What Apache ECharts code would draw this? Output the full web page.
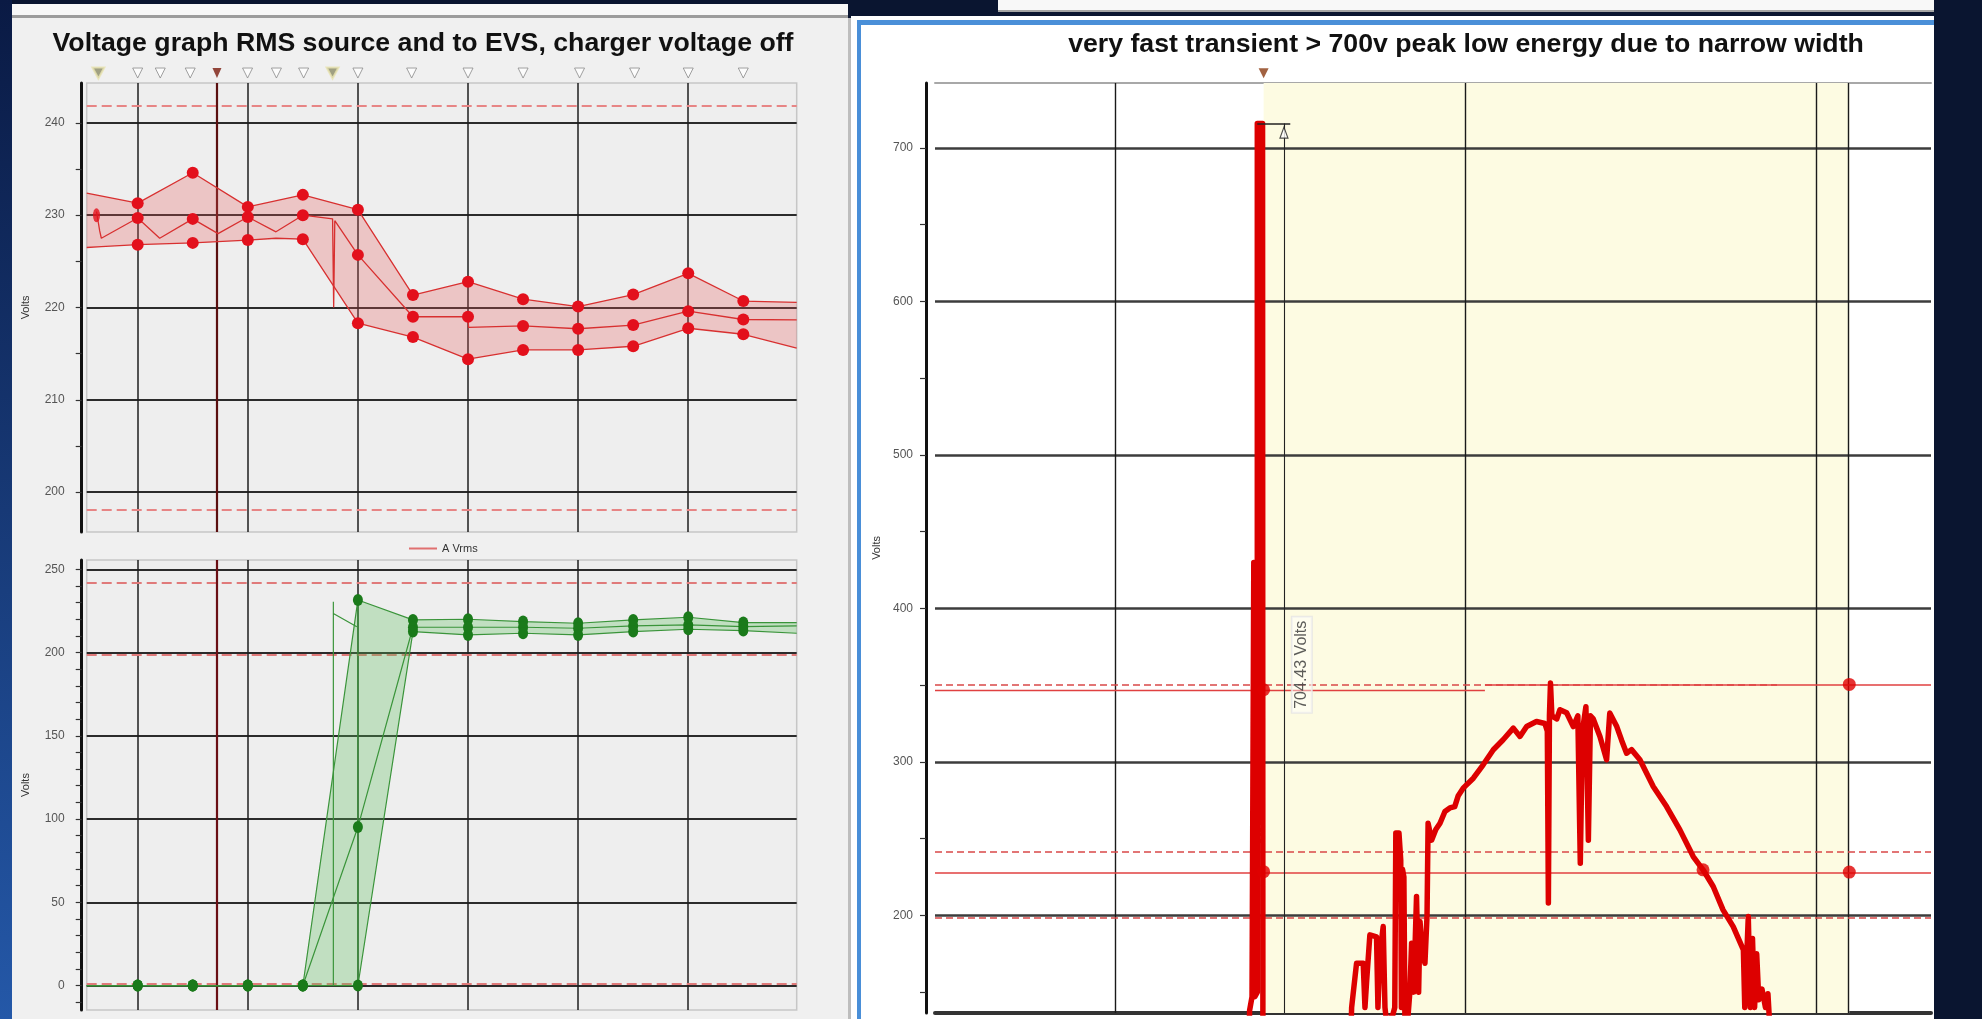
<!DOCTYPE html>
<html><head><meta charset="utf-8">
<script src="https://cdn.jsdelivr.net/npm/echarts@6/dist/echarts.min.js"></script>
<style>html,body{margin:0;padding:0;background:#0a1530;}#c{width:1982px;height:1019px;}</style>
</head><body><div id="c"></div>
<script>
// ---------- titles ----------
const titleLeft = 'Voltage graph RMS source and to EVS, charger voltage off';
const titleRight = 'very fast transient > 700v peak low energy due to narrow width';
const peakText = '704.43 Volts';

// ---------- top-left: A Vrms (source) ----------
const rmsMax = [[0.537,232.4],[1.0,231.3],[1.5,234.6],[2.0,230.9],[2.5,232.2],[3.0,230.6],[3.5,221.35],[4.0,222.8],[4.5,220.9],[5.0,220.1],[5.5,221.4],[6.0,223.7],[6.5,220.7],[6.985,220.55]];
const rmsMean = [[0.626,230.4],[0.655,228.3],[0.67,227.5],[1.0,229.7],[1.2,227.5],[1.5,229.6],[1.73,228.0],[2.0,229.8],[2.256,228.2],[2.5,230.0],[2.77,229.6],[2.78,220.0],[2.79,229.4],[3.0,225.7],[3.5,219.0],[4.0,219.0],[4.005,217.85],[4.5,218.0],[5.0,217.7],[5.5,218.1],[6.0,219.6],[6.5,218.7],[6.985,218.65]];
const rmsMin = [[0.537,226.5],[0.67,226.6],[1.0,226.8],[1.5,227.0],[2.0,227.3],[2.256,227.5],[2.5,227.4],[3.0,218.3],[3.5,216.8],[4.0,214.4],[4.5,215.4],[5.0,215.4],[5.5,215.8],[6.0,217.75],[6.5,217.1],[6.985,215.6]];
const rmsStartDot = [[0.626,230.0]];

// ---------- bottom-left: EVS voltage ----------
const evsMax = [[0.537,0],[1,0],[1.5,0],[2,0],[2.5,0],[3,231.6],[3.5,219.6],[4,220.0],[4.5,218.6],[5,217.6],[5.5,219.6],[6,221.2],[6.5,218.0],[6.985,218.0]];
const evsMean = [[0.537,0],[1,0],[1.5,0],[2,0],[2.5,0],[3,95.2],[3.5,215.2],[4,215.2],[4.5,215.2],[5,214.6],[5.5,216.0],[6,216.6],[6.5,215.6],[6.985,216.0]];
const evsMin = [[0.537,0],[1,0],[1.5,0],[2,0],[2.5,0],[3,0],[3.5,212.6],[4,210.6],[4.5,211.6],[5,210.6],[5.5,212.6],[6,214.0],[6.5,213.2],[6.985,211.6]];
const evsGlitch = [[2.777,0],[2.777,230.5],[2.777,223.5],[2.99,215.5]];
const evsStep = [[3.0,0],[3.0,231.6]];

// ---------- left axes / events ----------
const tlTicks = [200,205,210,215,220,225,230,235,240];
const tlLabels = [200,210,220,230,240];
const tlGridVolts = [200,210,220,230,240];
const tlLimitVolts = [241.86,198.1];
const blTicks = [-10,0,10,20,30,40,50,60,70,80,90,100,110,120,130,140,150,160,170,180,190,200,210,220,230,240,250];
const blLabels = [0,50,100,150,200,250];
const blGridVolts = [0,50,100,150,200,250];
const blLimitVolts = [242,198.5,1.2];
const leftGridTimes = [1,2,3,4,5,6];
const eventTimes = [1.0,1.205,1.477,1.998,2.26,2.507,3.0,3.488,4.0,4.5,5.013,5.513,6.0,6.5];
const flagTimes = [0.643,2.77];
const cursorTime = 1.72;
const markerRowVolts = 245.4;

// ---------- right: fast transient waveform ----------
const wave = [[0.487,60],[1.378,60],[1.384,138],[1.391,147],[1.396,147],[1.396,430],[1.399,147],[1.406,150],[1.406,716],[1.421,716],[1.422,120],[1.427,60],
[1.665,60],[1.675,140],[1.689,168.8],[1.708,168.8],[1.713,140],[1.718,158],[1.727,187.3],[1.746,186],[1.750,140],[1.756,175.4],[1.765,192.7],[1.770,140],[1.775,130],[1.792,135],[1.798,140],[1.801,253.6],[1.810,253.6],[1.815,236],[1.817,140],[1.820,230],[1.824,225],[1.827,130],[1.836,135],[1.841,150],[1.846,181.9],[1.852,150],[1.860,212.3],[1.866,150],[1.870,196],[1.875,180],[1.884,168.8],[1.890,200],[1.893,260],[1.903,249],[1.915,256],[1.927,260],[1.941,267.7],[1.955,270],[1.969,270.9],[1.979,278],[1.993,282.9],[2.022,289.4],[2.050,298.1],[2.079,307.9],[2.107,314.4],[2.136,322],[2.155,316.6],[2.174,323.1],[2.202,326.3],[2.226,325],[2.233,320],[2.236,208],[2.239,330],[2.242,351.4],[2.246,330],[2.260,328],[2.269,334],[2.288,332],[2.307,323],[2.320,330],[2.327,234],[2.333,320],[2.343,336],[2.350,249],[2.356,330],[2.364,328],[2.383,316.6],[2.402,301.4],[2.411,331.8],[2.431,323],[2.445,314],[2.459,305.7],[2.473,308],[2.497,301.4],[2.535,284],[2.573,270.9],[2.611,255.7],[2.649,238.3],[2.677,229.7],[2.706,218.8],[2.734,203.6],[2.763,192.7],[2.792,177.5],[2.796,140],[2.806,199.2],[2.812,140],[2.818,185],[2.824,140],[2.830,175],[2.836,145],[2.845,152],[2.855,140],[2.862,149],[2.868,125],[2.9,60],[3.327,60]];
const rightDots = [[1.424,347],[1.424,228.5],[2.677,229.7],[3.094,350.5],[3.094,228.2]];
const rTicks = [150,200,250,300,350,400,450,500,550,600,650,700];
const rLabels = [200,300,400,500,600,700];
const rGridVolts = [200,300,400,500,600,700];
const rGridTimes = [1,2,3,3.094];
const rCursorTime = 1.424;
const rWindowEnd = 3.094;
const rCursorVolts = 748.7;
const peakVolts = 716;
const peakLeaderTimes = [1.406,1.50];
const dimTime = 1.482;
const dimArrow = [[1.482,710]];
const peakLabelPos = [[1.533,363.3]];
const rDashHi = {v:350.3, from:0.487, to:2.888};
const rSolidHiA = {v:347, from:0.487, to:2.055};
const rSolidHiB = {v:350.3, from:2.055, to:3.327};
const rDashedFull = [241.6,198.4];
const rSolidFull = [227.5];

// ---------- build ----------
const chart = echarts.init(document.getElementById('c'), null, {renderer:'canvas'});
const FONT = '"Liberation Sans", Arial, sans-serif';

function isHalfStep(x){ return x >= 0.99 && x <= 6.51 && Math.abs(x*2 - Math.round(x*2)) < 0.002; }
function dotSize(val){ return isHalfStep(val[0]) ? 12 : 0; }
function dotSizeG(val){ return isHalfStep(val[0]) ? [10,12] : 0; }
function band(xi, yi, upper, lower, fill){
  return {type:'custom', xAxisIndex:xi, yAxisIndex:yi, z:2, silent:true,
    data:[upper[0]],
    renderItem:function(params, api){
      const pts = upper.map(p=>api.coord(p)).concat(lower.slice().reverse().map(p=>api.coord(p)));
      return {type:'polygon', shape:{points:pts}, style:{fill:fill}};
    }};
}
function hline(v, color, width, type){ return {yAxis:v, lineStyle:{color:color, width:width, type:type||'solid'}}; }
function vline(t, color, width){ return {xAxis:t, lineStyle:{color:color, width:width, type:'solid'}}; }
function seg(a, b, color, width, type){ return [{coord:a, lineStyle:{color:color, width:width, type:type||'solid'}},{coord:b}]; }

const redLine = '#d83030', redDot = '#e3101c';
const greenLine = '#3a943a', greenDot = '#1a7a1a';

function yAx(gi, min, max, ticks, labels, offset, margin, gap){
  return {gridIndex:gi, type:'value', min:min, max:max, offset:offset,
    axisLine:{show:true, onZero:false, lineStyle:{color:'#111', width:3}},
    axisTick:{show:true, length:6, customValues:ticks, lineStyle:{color:'#333', width:1.2}},
    axisLabel:{show:true, customValues:labels, fontSize:12, color:'#555', margin:margin, fontFamily:FONT},
    splitLine:{show:false},
    name:'Volts', nameLocation:'middle', nameGap:gap, nameTextStyle:{fontSize:11, color:'#333', fontFamily:FONT}};
}

const option = {
  backgroundColor:'#0a1530',
  animation:false,
  graphic:[
    {type:'rect', z:-10, shape:{x:0,y:0,width:12,height:1019}, style:{fill:new echarts.graphic.LinearGradient(0,0,0,1,[{offset:0,color:'#0a1a44'},{offset:1,color:'#2458a8'}])}},
    {type:'rect', z:-10, shape:{x:12,y:4,width:836,height:11}, style:{fill:'#f7f7f7'}},
    {type:'rect', z:-10, shape:{x:12,y:15,width:836,height:3}, style:{fill:'#9c9c9c'}},
    {type:'rect', z:-10, shape:{x:12,y:18,width:836,height:1001}, style:{fill:'#f0f0f0'}},
    {type:'rect', z:-10, shape:{x:848,y:18,width:3,height:1001}, style:{fill:'#bdbdbd'}},
    {type:'rect', z:-10, shape:{x:851,y:16,width:1083,height:1003}, style:{fill:'#ffffff'}},
    {type:'rect', z:-9, shape:{x:857,y:20,width:4,height:999}, style:{fill:'#4a8fd8'}},
    {type:'rect', z:-9, shape:{x:857,y:20,width:1077,height:5}, style:{fill:'#4a8fd8'}},
    {type:'rect', z:-10, shape:{x:998,y:0,width:936,height:10}, style:{fill:'#f8f8f8'}},
    {type:'rect', z:-10, shape:{x:998,y:10,width:936,height:2}, style:{fill:'#a4a4a4'}},
    {type:'text', z:10, x:423, y:44, style:{text:titleLeft, align:'center', verticalAlign:'middle', textAlign:'center', textVerticalAlign:'middle', font:'bold 26.7px '+FONT, fill:'#111'}},
    {type:'text', z:10, x:1466, y:45, style:{text:titleRight, align:'center', verticalAlign:'middle', textAlign:'center', textVerticalAlign:'middle', font:'bold 26.7px '+FONT, fill:'#111'}}
  ],
  legend:{show:true, data:[{name:'A Vrms', icon:'rect'}], left:404, top:538, itemWidth:28, itemHeight:2, itemGap:6,
    selectedMode:false, itemStyle:{color:'#e07070'}, textStyle:{fontSize:11, color:'#333', fontFamily:FONT}},
  grid:[
    {left:86.7, top:82.9, width:710, height:449.1, show:true, backgroundColor:'#eeeeee', borderColor:'#c6c6c6', borderWidth:1.5},
    {left:86.7, top:560, width:710, height:450, show:true, backgroundColor:'#eeeeee', borderColor:'#c6c6c6', borderWidth:1.5},
    {left:935, top:82.9, width:996, height:930.1, show:false}
  ],
  xAxis:[
    {gridIndex:0, type:'value', min:0.537, max:6.985, show:false},
    {gridIndex:1, type:'value', min:0.537, max:6.985, show:false},
    {gridIndex:2, type:'value', min:0.487, max:3.327, position:'bottom',
      axisLine:{show:true, onZero:false, lineStyle:{color:'#333', width:4}}, axisTick:{show:false}, axisLabel:{show:false}, splitLine:{show:false}},
    {gridIndex:2, type:'value', min:0.487, max:3.327, position:'top',
      axisLine:{show:true, onZero:false, lineStyle:{color:'#a8a8a8', width:2}}, axisTick:{show:false}, axisLabel:{show:false}, splitLine:{show:false}}
  ],
  yAxis:[
    yAx(0, 195.68, 244.33, tlTicks, tlLabels, 5, 17, 50),
    yAx(1, -14.7, 255.6, blTicks, blLabels, 5, 17, 50),
    yAx(2, 136.4, 742.4, rTicks, rLabels, 9, 13, 40)
  ],
  series:[
    // ---- top-left grid lines & limits
    {type:'line', xAxisIndex:0, yAxisIndex:0, data:[], silent:true,
      markLine:{silent:true, symbol:'none', z:1, label:{show:false}, emphasis:{disabled:true},
        data:[].concat(
          tlGridVolts.map(v=>hline(v,'#2b2b2b',2)),
          leftGridTimes.map(t=>vline(t,'#1e1e1e',1.5)),
          tlLimitVolts.map(v=>hline(v,'#e78585',2,[10,5])),
          [vline(cursorTime,'#5a0f0f',2.2)]
        )}},
    band(0,0,rmsMax,rmsMin,'rgba(232,90,90,0.27)'),
    {type:'line', name:'max', xAxisIndex:0, yAxisIndex:0, z:4, data:rmsMax, symbol:'circle', symbolSize:dotSize,
      lineStyle:{color:redLine, width:1.3}, itemStyle:{color:redDot}},
    {type:'line', name:'A Vrms', xAxisIndex:0, yAxisIndex:0, z:4, data:rmsMean, symbol:'circle', symbolSize:dotSize,
      lineStyle:{color:redLine, width:1.3}, itemStyle:{color:redDot}},
    {type:'line', name:'min', xAxisIndex:0, yAxisIndex:0, z:4, data:rmsMin, symbol:'circle', symbolSize:dotSize,
      lineStyle:{color:redLine, width:1.3}, itemStyle:{color:redDot}},
    {type:'scatter', xAxisIndex:0, yAxisIndex:0, z:5, data:rmsStartDot, symbol:'circle', symbolSize:[7,14], itemStyle:{color:redDot}},
    {type:'scatter', xAxisIndex:0, yAxisIndex:0, z:5, clip:false, data:eventTimes.map(t=>[t,markerRowVolts]),
      symbol:'triangle', symbolRotate:180, symbolSize:[10,10], itemStyle:{color:'#ffffff', borderColor:'#8a8a8a', borderWidth:1}},
    {type:'scatter', xAxisIndex:0, yAxisIndex:0, z:5, clip:false, data:flagTimes.map(t=>[t,markerRowVolts]),
      symbol:'triangle', symbolRotate:180, symbolSize:[12,11], itemStyle:{color:'#8c8c66', borderColor:'#e8e4b0', borderWidth:2}},
    {type:'scatter', xAxisIndex:0, yAxisIndex:0, z:5, clip:false, data:[[cursorTime,markerRowVolts]],
      symbol:'triangle', symbolRotate:180, symbolSize:[9,10], itemStyle:{color:'#7a1a0c'}},

    // ---- bottom-left
    {type:'line', xAxisIndex:1, yAxisIndex:1, data:[], silent:true,
      markLine:{silent:true, symbol:'none', z:1, label:{show:false}, emphasis:{disabled:true},
        data:[].concat(
          blGridVolts.map(v=>hline(v,'#2b2b2b',2)),
          leftGridTimes.map(t=>vline(t,'#1e1e1e',1.5)),
          blLimitVolts.map(v=>hline(v,'#e07a7a',2,[10,5])),
          [vline(cursorTime,'#6a0f14',2.2)]
        )}},
    band(1,1,evsMax,evsMin,'rgba(90,190,90,0.3)'),
    {type:'line', xAxisIndex:1, yAxisIndex:1, z:4, data:evsGlitch, symbol:'none', lineStyle:{color:greenLine, width:1.2}},
    {type:'line', xAxisIndex:1, yAxisIndex:1, z:4, data:evsStep, symbol:'none', lineStyle:{color:greenLine, width:1.2}},
    {type:'line', name:'evsMax', xAxisIndex:1, yAxisIndex:1, z:4, data:evsMax, symbol:'circle', symbolSize:dotSizeG,
      lineStyle:{color:greenLine, width:1.2}, itemStyle:{color:greenDot}},
    {type:'line', name:'evsMean', xAxisIndex:1, yAxisIndex:1, z:4, data:evsMean, symbol:'circle', symbolSize:dotSizeG,
      lineStyle:{color:greenLine, width:1.2}, itemStyle:{color:greenDot}},
    {type:'line', name:'evsMin', xAxisIndex:1, yAxisIndex:1, z:4, data:evsMin, symbol:'circle', symbolSize:dotSizeG,
      lineStyle:{color:greenLine, width:1.2}, itemStyle:{color:greenDot}},

    // ---- right
    {type:'line', xAxisIndex:2, yAxisIndex:2, data:[], silent:true,
      markArea:{silent:true, z:1, itemStyle:{color:'#fdfbe2'}, data:[[{xAxis:rCursorTime},{xAxis:rWindowEnd}]]},
      markLine:{silent:true, symbol:'none', z:2, label:{show:false}, emphasis:{disabled:true},
        data:[].concat(
          rGridVolts.map(v=>hline(v,'#3c3c3c',2.5)),
          rGridTimes.map(t=>vline(t,'#1a1a1a',1.4)),
          rDashedFull.map(v=>hline(v,'#d94848',1.6,[7,4])),
          rSolidFull.map(v=>hline(v,'#e04040',1.5)),
          [seg([rDashHi.from,rDashHi.v],[rDashHi.to,rDashHi.v],'#d94848',1.6,[7,4]),
           seg([rSolidHiA.from,rSolidHiA.v],[rSolidHiA.to,rSolidHiA.v],'#e04040',1.3),
           seg([rSolidHiB.from,rSolidHiB.v],[rSolidHiB.to,rSolidHiB.v],'#e04040',1.5)]
        )}},
    {type:'line', xAxisIndex:2, yAxisIndex:2, z:4, data:wave, symbol:'none',
      lineStyle:{color:'#dd0000', width:5.5, join:'round', cap:'round'}},
    {type:'line', xAxisIndex:2, yAxisIndex:2, data:[], silent:true,
      markLine:{silent:true, symbol:'none', z:6, label:{show:false}, emphasis:{disabled:true},
        data:[
          seg([rCursorTime+0.004,rCursorVolts-4],[rCursorTime+0.004,peakVolts],'#e07070',1.2),
          seg([peakLeaderTimes[0],peakVolts],[peakLeaderTimes[1],peakVolts],'#222',1.5),
          seg([dimTime,peakVolts],[dimTime,136.4],'#222',1.1)
        ]}},
    {type:'scatter', xAxisIndex:2, yAxisIndex:2, z:6, data:rightDots, symbol:'circle', symbolSize:13, itemStyle:{color:'#e00000'}},
    {type:'scatter', xAxisIndex:2, yAxisIndex:2, z:7, clip:false, data:[[rCursorTime,rCursorVolts]],
      symbol:'triangle', symbolRotate:180, symbolSize:[10,10], itemStyle:{color:'#8b3b12'}},
    {type:'scatter', xAxisIndex:2, yAxisIndex:2, z:7, data:dimArrow,
      symbol:'triangle', symbolSize:[8,11], itemStyle:{color:'#ffffff', borderColor:'#222', borderWidth:1.2}},
    {type:'scatter', xAxisIndex:2, yAxisIndex:2, z:7, data:peakLabelPos, symbol:'circle', symbolSize:1,
      itemStyle:{color:'rgba(0,0,0,0)'},
      label:{show:true, position:'inside', formatter:peakText, rotate:90, fontSize:16, color:'#333', fontFamily:FONT,
        backgroundColor:'rgba(255,255,255,0.55)', borderColor:'#e4e4e4', borderWidth:1, padding:[2,4]}}
  ]
};
chart.setOption(option);
</script></body></html>
